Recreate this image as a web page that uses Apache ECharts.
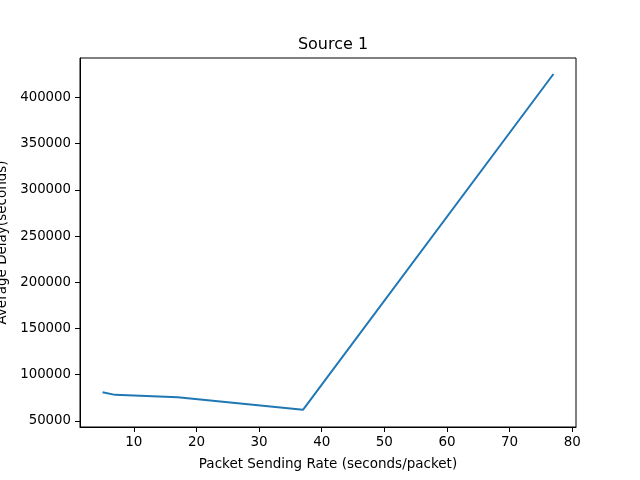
<!DOCTYPE html>
<html>
<head>
<meta charset="utf-8">
<script src="https://cdn.jsdelivr.net/npm/echarts@6/dist/echarts.min.js"></script>
<style>
  html, body { margin: 0; padding: 0; background: #fff; }
  #chart { width: 640px; height: 480px; }
</style>
</head>
<body>
<div id="chart"></div>
<script>
// data
const rates = [5, 7, 17, 37, 77];
const delays = [81000, 78100, 75600, 61900, 425500];
const xTicks = [10, 20, 30, 40, 50, 60, 70, 80];
const yTicks = [50000, 100000, 150000, 200000, 250000, 300000, 350000, 400000];

const font = 'DejaVu Sans';
const chart = echarts.init(document.getElementById('chart'));

chart.setOption({
  animation: false,
  backgroundColor: '#fff',
  title: {
    text: 'Source 1',
    left: 328,
    textAlign: 'center',
    top: 32,
    textStyle: {fontFamily: font, fontSize: 16, fontWeight: 'normal', color: '#000'}
  },
  grid: {
    left: 80, right: 64, top: 58, bottom: 53,
    containLabel: false,
    outerBoundsMode: 'none',
    show: true, borderColor: '#000', borderWidth: 1, backgroundColor: 'transparent'
  },
  xAxis: {
    type: 'value',
    min: 1.4,
    max: 80.6,
    name: 'Packet Sending Rate (seconds/packet)',
    nameLocation: 'middle',
    nameGap: 30,
    nameTextStyle: {fontFamily: font, fontSize: 13.5, color: '#000'},
    axisLine: {show: true, lineStyle: {color: '#000', width: 1}},
    axisTick: {show: true, length: 5, lineStyle: {color: '#000'}, customValues: xTicks},
    axisLabel: {fontFamily: font, fontSize: 13.5, color: '#000', margin: 8, customValues: xTicks,
      formatter: v => String(v)},
    splitLine: {show: false}
  },
  yAxis: {
    type: 'value',
    min: 43300,
    max: 442800,
    name: 'Average Delay(seconds)',
    nameLocation: 'middle',
    nameGap: 68,
    nameTextStyle: {fontFamily: font, fontSize: 13.5, color: '#000'},
    axisLine: {show: true, lineStyle: {color: '#000', width: 1}},
    axisTick: {show: true, length: 5, lineStyle: {color: '#000'}, customValues: yTicks},
    axisLabel: {fontFamily: font, fontSize: 13.3, color: '#000', margin: 9, customValues: yTicks,
      formatter: v => String(v)},
    splitLine: {show: false}
  },
  series: [{
    type: 'line',
    data: rates.map((r, i) => [r, delays[i]]),
    showSymbol: false,
    lineStyle: {color: '#1f77b4', width: 2},
    itemStyle: {color: '#1f77b4'}
  }]
});
</script>
</body>
</html>
